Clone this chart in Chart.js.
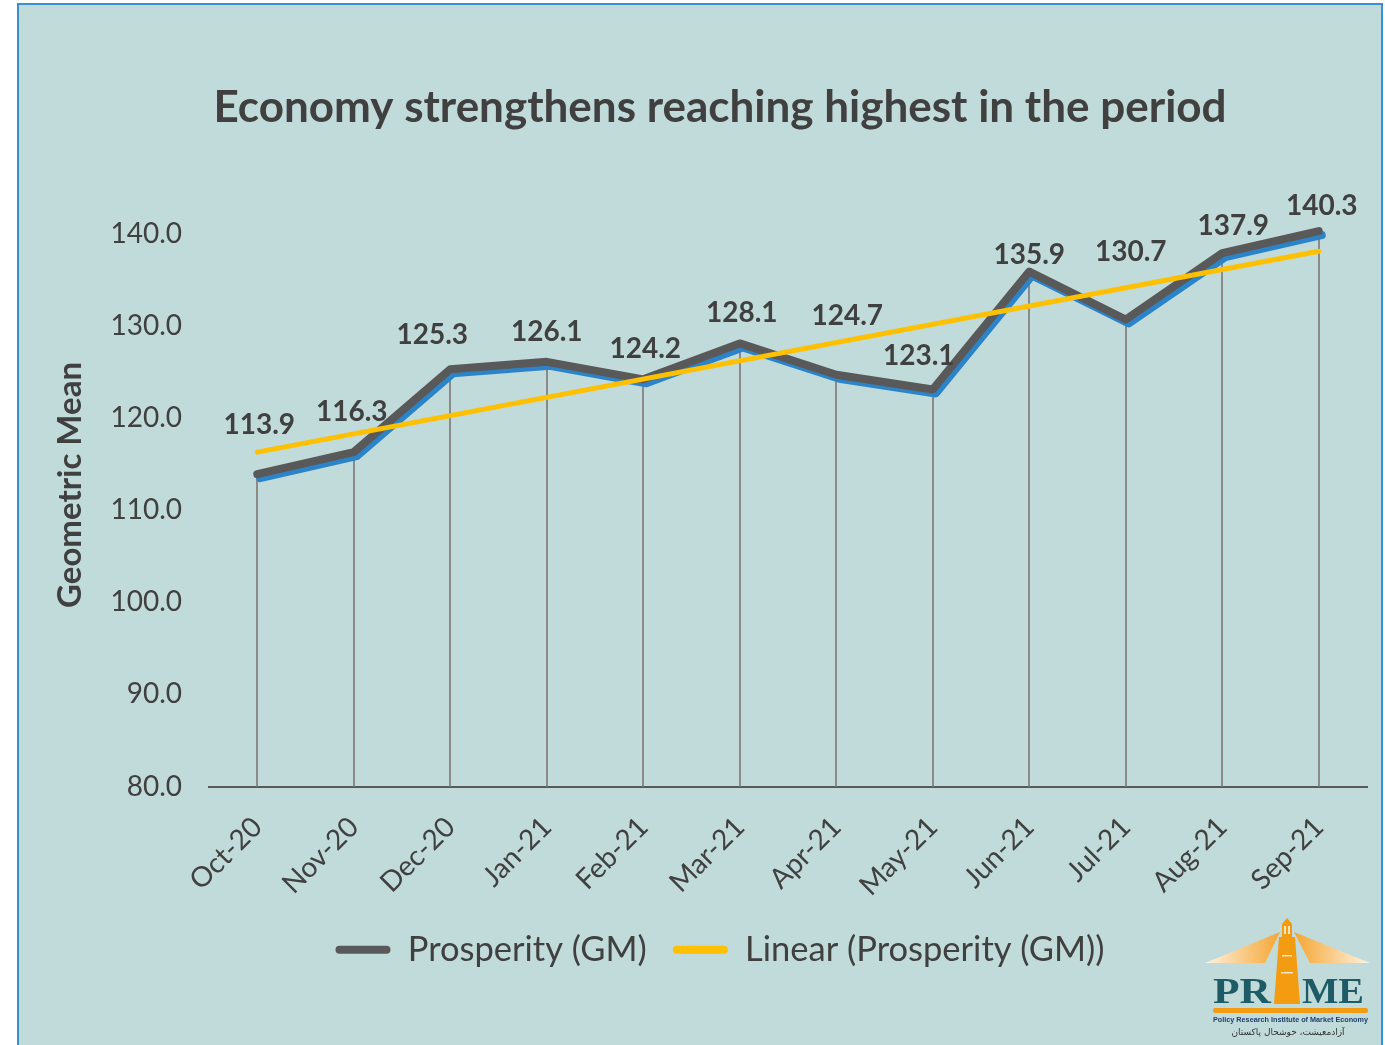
<!DOCTYPE html>
<html><head><meta charset="utf-8">
<script src="https://cdn.jsdelivr.net/npm/chart.js@4.4.1/dist/chart.umd.min.js"></script>
<style>
html,body{margin:0;padding:0;background:#fff;width:1385px;height:1045px;overflow:hidden;}
#frame{position:absolute;left:17px;top:3px;width:1366px;height:1080px;background:#c0dbd9;border:2px solid #3a8fd9;box-sizing:border-box;}
#wrap{position:absolute;left:0;top:0;width:1385px;height:1045px;}
#logo{position:absolute;left:1190px;top:912px;}
</style></head><body>
<div id="frame"></div>
<div id="wrap"><canvas id="c" width="1385" height="1045"></canvas></div>
<svg id="logo" width="190" height="130" viewBox="0 0 190 130" xmlns="http://www.w3.org/2000/svg">
  <defs>
    <linearGradient id="bl" x1="1" y1="0" x2="0" y2="0"><stop offset="0" stop-color="#f5a531"/><stop offset="1" stop-color="#fdf3e3"/></linearGradient>
    <linearGradient id="br" x1="0" y1="0" x2="1" y2="0"><stop offset="0" stop-color="#f5a531"/><stop offset="1" stop-color="#fdf3e3"/></linearGradient>
  </defs>
  <polygon points="90,20 15,51 75,51" fill="url(#bl)"/>
  <polygon points="104,20 180,51 120,51" fill="url(#br)"/>
  <polygon points="97,6 92,12 102,12" fill="#f39c12"/>
  <rect x="92" y="12" width="10" height="13" fill="#f39c12"/>
  <rect x="94" y="14" width="2" height="8" fill="#fde6c0"/><rect x="98" y="14" width="2" height="8" fill="#fde6c0"/>
  <polygon points="89,25 105,25 110,92 84,92" fill="#f39c12"/>
  <rect x="92" y="43" width="10" height="1.5" fill="#fde6c0"/><rect x="91" y="60" width="12" height="1.5" fill="#fde6c0"/>
  <text x="23" y="91" font-family="Liberation Serif, DejaVu Serif, serif" font-weight="bold" font-size="35" fill="#1d5c66" textLength="58" lengthAdjust="spacingAndGlyphs">PR</text>
  <text x="112" y="91" font-family="Liberation Serif, DejaVu Serif, serif" font-weight="bold" font-size="35" fill="#1d5c66" textLength="62" lengthAdjust="spacingAndGlyphs">ME</text>
  <rect x="23" y="96" width="155" height="5" rx="2" fill="#f39c12"/>
  <text x="23" y="110" font-family="Liberation Sans, Arial, sans-serif" font-weight="bold" font-size="7.4" fill="#1d3f6e" textLength="155" lengthAdjust="spacingAndGlyphs">Policy Research Institute of Market Economy</text>
  <text x="98" y="123" text-anchor="middle" font-family="DejaVu Sans, sans-serif" font-size="9" fill="#333">آزادمعیشت، خوشحال پاکستان</text>
</svg>
<script>
// ---- data ----
const categories = ['Oct-20','Nov-20','Dec-20','Jan-21','Feb-21','Mar-21','Apr-21','May-21','Jun-21','Jul-21','Aug-21','Sep-21'];
const prosperity = [113.9,116.3,125.3,126.1,124.2,128.1,124.7,123.1,135.9,130.7,137.9,140.3];
const trendEnds = [116.3, 138.1]; // linear trendline values at first and last month
const yTicks = [80,90,100,110,120,130,140];
const seriesNames = ['Prosperity (GM)','Linear (Prosperity (GM))'];
const titleText = 'Economy strengthens reaching highest in the period';
const yTitle = 'Geometric Mean';
// label offsets relative to points (styling)
const labelOffsets = [[2,-49],[-2,-40],[-18,-34],[0,-30],[2,-30],[2,-30],[11,-59],[-14,-34],[0,-17],[5,-67],[11,-27],[3,-25]];

const TXT = '#404040';
const FONT = 'Lato, "Open Sans", "DejaVu Sans", sans-serif';

const dropLines = {
  id:'dropLines',
  beforeDatasetsDraw(chart){
    const meta = chart.getDatasetMeta(0);
    const yb = chart.scales.y.bottom;
    const ctx = chart.ctx;
    ctx.save();
    ctx.strokeStyle = '#8a8a8a';
    ctx.lineWidth = 2;
    meta.data.forEach(p=>{
      ctx.beginPath(); ctx.moveTo(Math.round(p.x), p.y); ctx.lineTo(Math.round(p.x), yb); ctx.stroke();
    });
    ctx.restore();
  }
};
const shadow = {
  id:'shadow',
  beforeDatasetDraw(chart, args){
    if(args.index!==0) return;
    const ctx = chart.ctx;
    ctx.save();
    ctx.shadowColor = '#2b84c9';
    ctx.shadowOffsetX = 3;
    ctx.shadowOffsetY = 4;
    ctx.shadowBlur = 0;
  },
  afterDatasetDraw(chart, args){
    if(args.index!==0) return;
    chart.ctx.restore();
  }
};
const dataLabels = {
  id:'dataLabels',
  afterDatasetsDraw(chart){
    const meta = chart.getDatasetMeta(0);
    const ctx = chart.ctx;
    ctx.save();
    ctx.font = 'bold 28px ' + FONT;
    ctx.fillStyle = TXT;
    ctx.textAlign = 'center';
    ctx.textBaseline = 'middle';
    meta.data.forEach((p,i)=>{
      const o = labelOffsets[i];
      ctx.fillText(prosperity[i].toFixed(1), p.x + o[0], p.y + o[1]);
    });
    ctx.restore();
  }
};
const yTitlePlugin = {
  id:'yTitlePlugin',
  afterDraw(chart){
    const ctx = chart.ctx;
    ctx.save();
    ctx.translate(70, 485);
    ctx.rotate(-Math.PI/2);
    ctx.font = 'bold 33px ' + FONT;
    ctx.fillStyle = TXT;
    ctx.textAlign = 'center';
    ctx.textBaseline = 'middle';
    ctx.fillText(yTitle, 0, 0);
    ctx.restore();
  }
};

new Chart(document.getElementById('c'), {
  type:'line',
  data:{
    labels: categories,
    datasets:[
      { label: seriesNames[0], data: prosperity, borderColor:'#595959', backgroundColor:'#595959', borderWidth:8,
        pointRadius:0, tension:0, clip:false, borderCapStyle:'round', borderJoinStyle:'round', order:1 },
      { label: seriesNames[1], data:[{x:categories[0],y:trendEnds[0]},{x:categories[categories.length-1],y:trendEnds[1]}],
        borderColor:'#ffc000', backgroundColor:'#ffc000', borderWidth:5, pointRadius:0, tension:0, clip:false,
        borderCapStyle:'round', order:0 }
    ]
  },
  options:{
    responsive:false, animation:false, devicePixelRatio:1,
    layout:{ padding:{ left:73, right:18, top:0, bottom:68 } },
    plugins:{
      tooltip:{enabled:false},
      title:{ display:true, text:titleText, color:TXT, font:{family:FONT, size:44, weight:'bold', lineHeight:1.2}, padding:{top:81, bottom:100} },
      legend:{ position:'bottom',
        labels:{ color:TXT, font:{family:FONT, size:34.5}, boxWidth:55, boxHeight:8, padding:26, useBorderRadius:true, borderRadius:4,
          sort:(a,b)=>a.datasetIndex-b.datasetIndex,
          generateLabels:(chart)=>chart.data.datasets.map((ds,i)=>({text:ds.label, fillStyle:ds.borderColor, strokeStyle:'rgba(0,0,0,0)', lineWidth:0, datasetIndex:i, hidden:false, borderRadius:4, fontColor:TXT}))
        } }
    },
    scales:{
      x:{ type:'category', offset:true, grid:{display:false, drawTicks:false},
        border:{display:true, color:'#595959', width:2},
        afterFit:(s)=>{ s.height = 120; },
        ticks:{ color:TXT, font:{family:FONT, size:28}, minRotation:45, maxRotation:45, padding:24, autoSkip:false } },
      y:{ min:yTicks[0], max:yTicks[yTicks.length-1], grid:{display:false, drawTicks:false}, border:{display:false},
        afterBuildTicks:(s)=>{ s.ticks = yTicks.map(v=>({value:v})); },
        afterFit:(s)=>{ s.width = 136; },
        ticks:{ color:TXT, font:{family:FONT, size:28}, padding:27, callback:(v)=>Number(v).toFixed(1) } }
    }
  },
  plugins:[dropLines, shadow, dataLabels, yTitlePlugin]
});
</script>
</body></html>
